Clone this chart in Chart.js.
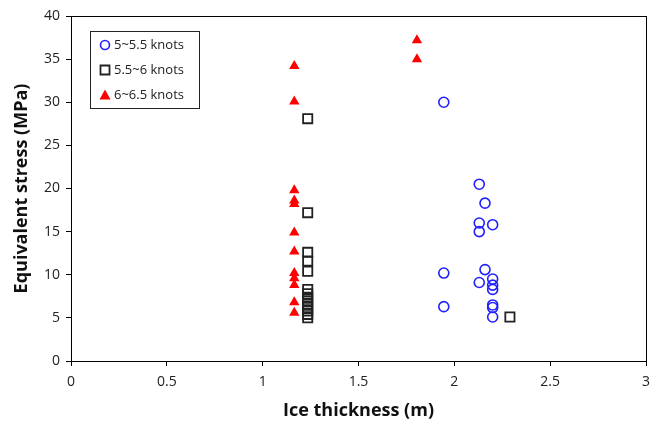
<!DOCTYPE html>
<html>
<head>
<meta charset="utf-8">
<script src="https://cdn.jsdelivr.net/npm/chart.js@4.4.1/dist/chart.umd.min.js"></script>
<style>
  body { margin: 0; background: #fff; }
  #wrap { width: 665px; height: 431px; }
</style>
</head>
<body>
<div id="wrap"><canvas id="myChart" width="665" height="431"></canvas></div>
<script>
// 5~5.5 knots
const blueX = [1.945, 1.945, 1.945, 2.13, 2.13, 2.13, 2.13, 2.16, 2.16, 2.2, 2.2, 2.2, 2.2, 2.2, 2.2, 2.2];
const blueY = [30.0, 10.2, 6.3, 20.5, 16.0, 15.0, 9.1, 18.3, 10.6, 15.8, 9.5, 8.8, 8.3, 6.5, 6.2, 5.1];
// 5.5~6 knots
const blackX = [1.235, 1.235, 1.235, 1.235, 1.235, 1.235, 1.235, 1.235, 1.235, 1.235, 1.235, 1.235, 1.235, 1.235, 2.29];
const blackY = [28.1, 17.2, 12.6, 11.6, 10.4, 8.3, 7.8, 7.4, 7.0, 6.6, 6.2, 5.8, 5.4, 5.0, 5.1];
// 6~6.5 knots
const redX = [1.165, 1.165, 1.165, 1.165, 1.165, 1.165, 1.165, 1.165, 1.165, 1.165, 1.165, 1.165, 1.805, 1.805];
const redY = [34.2, 30.1, 19.8, 18.6, 18.2, 14.9, 12.7, 10.2, 9.6, 8.8, 6.8, 5.6, 37.2, 35.0];

const seriesNames = ['5~5.5 knots', '5.5~6 knots', '6~6.5 knots'];
const xTicks = [0, 0.5, 1, 1.5, 2, 2.5, 3];
const yTicks = [0, 5, 10, 15, 20, 25, 30, 35, 40];

function toPoints(xs, ys) {
    return xs.map((x, i) => ({ x: x, y: ys[i] }));
}

const tickFont = { family: 'Open Sans', size: 14 };
const titleFont = { family: 'Open Sans', size: 18, weight: 'bold' };

// box around the plot + legend inside
const framePlugin = {
    id: 'frame',
    afterDraw(chart) {
        const ctx = chart.ctx;
        const a = chart.chartArea;
        ctx.save();
        ctx.strokeStyle = '#000';
        ctx.lineWidth = 1;
        ctx.strokeRect(Math.round(a.left) + 0.5, Math.round(a.top) + 0.5,
            Math.round(a.right - a.left), Math.round(a.bottom - a.top));

        // legend
        const lx = 90, ly = 31, lw = 109, lh = 77;
        ctx.fillStyle = '#fff';
        ctx.fillRect(lx, ly, lw, lh);
        ctx.strokeStyle = '#222';
        ctx.strokeRect(lx + 0.5, ly + 0.5, lw, lh);
        ctx.font = '13px "Open Sans"';
        ctx.textBaseline = 'middle';
        ctx.textAlign = 'left';
        chart.data.datasets.forEach((ds, i) => {
            const cy = ly + 14 + i * 25;
            const cx = lx + 15;
            ctx.beginPath();
            if (ds.pointStyle === 'circle') {
                ctx.arc(cx, cy, 4.5, 0, Math.PI * 2);
                ctx.strokeStyle = ds.borderColor;
                ctx.lineWidth = 1.6;
                ctx.stroke();
            } else if (ds.pointStyle === 'rect') {
                ctx.rect(cx - 4.5, cy - 4.5, 9, 9);
                ctx.strokeStyle = ds.borderColor;
                ctx.lineWidth = 1.8;
                ctx.stroke();
            } else {
                ctx.moveTo(cx, cy - 5.5);
                ctx.lineTo(cx + 5.5, cy + 4.5);
                ctx.lineTo(cx - 5.5, cy + 4.5);
                ctx.closePath();
                ctx.fillStyle = ds.backgroundColor;
                ctx.fill();
            }
            ctx.fillStyle = '#222';
            ctx.fillText(ds.label, cx + 9, cy);
        });
        ctx.restore();
    }
};

new Chart(document.querySelector('#myChart').getContext('2d'), {
    type: 'scatter',
    data: {
        datasets: [{
            label: seriesNames[0],
            data: toPoints(blueX, blueY),
            pointStyle: 'circle',
            pointRadius: 5,
            borderColor: '#2020ff',
            backgroundColor: 'rgba(0,0,0,0)',
            borderWidth: 1.6
        }, {
            label: seriesNames[1],
            data: toPoints(blackX, blackY),
            pointStyle: 'rect',
            pointRadius: 6.5,
            borderColor: '#222',
            backgroundColor: 'rgba(0,0,0,0)',
            borderWidth: 1.8
        }, {
            label: seriesNames[2],
            data: toPoints(redX, redY),
            pointStyle: 'triangle',
            pointRadius: 6,
            borderColor: '#ff0000',
            backgroundColor: '#ff0000',
            borderWidth: 0
        }]
    },
    options: {
        responsive: false,
        animation: false,
        layout: { padding: { top: 16, right: 19, left: 0, bottom: 0 } },
        plugins: {
            legend: { display: false },
            tooltip: { enabled: false }
        },
        scales: {
            x: {
                type: 'linear',
                min: 0,
                max: 3,
                afterBuildTicks: (s) => { s.ticks = xTicks.map(v => ({ value: v })); },
                afterFit: (s) => { s.height = 70; },
                grid: { drawOnChartArea: false, drawTicks: true, tickLength: 5, color: '#000' },
                border: { color: '#000', width: 1 },
                ticks: { font: tickFont, color: '#222', padding: 8, callback: (v) => String(v) },
                title: { display: true, text: 'Ice thickness (m)', font: titleFont, color: '#111', padding: { top: 4, bottom: 9 } }
            },
            y: {
                type: 'linear',
                min: 0,
                max: 40,
                afterBuildTicks: (s) => { s.ticks = yTicks.map(v => ({ value: v })); },
                afterFit: (s) => { s.width = 71; },
                grid: { drawOnChartArea: false, drawTicks: true, tickLength: 5, color: '#000' },
                border: { color: '#000', width: 1 },
                ticks: { font: tickFont, color: '#222', padding: 6, callback: (v) => String(v) },
                title: { display: true, text: 'Equivalent stress (MPa)', font: titleFont, color: '#111', padding: { top: 11, bottom: 4 } }
            }
        }
    },
    plugins: [framePlugin]
});
</script>
</body>
</html>
